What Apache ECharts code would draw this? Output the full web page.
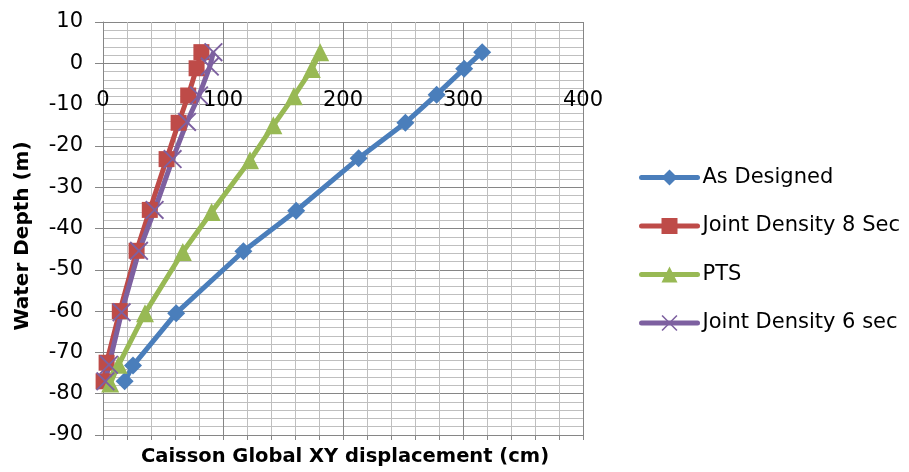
<!DOCTYPE html>
<html>
<head>
<meta charset="utf-8">
<script src="https://cdn.jsdelivr.net/npm/echarts@6/dist/echarts.min.js"></script>
<style>
  html, body { margin: 0; padding: 0; background: #ffffff; }
  #chart { width: 909px; height: 472px; }
</style>
</head>
<body>
<div id="chart"></div>
<script>
// ---- Data ----
var seriesNames = ["As Designed", "Joint Density 8 Sec", "PTS", "Joint Density 6 sec"];

var asDesignedX = [316, 301, 278, 252, 213, 161, 117, 61, 25, 18];
var asDesignedY = [2.7, -1.3, -7.6, -14.4, -23, -35.7, -45.5, -60.5, -73.2, -77];

var jd8X = [82, 78, 71, 63, 53, 39, 28, 14, 3, 0.5];
var jd8Y = [2.7, -1.2, -7.8, -14.4, -23.2, -35.5, -45.4, -60, -72.5, -77];

var ptsX = [181, 174, 159, 142, 122.5, 90.5, 66.5, 35, 13, 6];
var ptsY = [2.7, -1.4, -8, -15, -23.5, -36, -45.7, -60.5, -73, -77.5];

var jd6X = [92, 89, 80, 70, 58, 43, 30, 15.5, 5, 2];
var jd6Y = [2.7, -0.8, -7.8, -14.2, -23.2, -35.5, -45.4, -60.3, -73, -77];

var xTickValues = [0, 100, 200, 300, 400];
var yTickValues = [-90, -80, -70, -60, -50, -40, -30, -20, -10, 0, 10];

var xTitle = "Caisson Global XY displacement (cm)";
var yTitle = "Water Depth (m)";

// ---- Build ----
function pairs(xs, ys) {
  var out = [];
  for (var i = 0; i < xs.length; i++) out.push([xs[i], ys[i]]);
  return out;
}

var FONT = "DejaVu Sans";
var colors = ["#4A7EBB", "#BE4B48", "#98B954", "#7D60A0"];
var symbols = [
  "diamond",
  "rect",
  "triangle",
  "path://M0,0.7 L0.7,0 L10,9.3 L9.3,10 Z M9.3,0 L10,0.7 L0.7,10 L0,9.3 Z"
];
var symbolSizes = [18, 16, 18, 19];
var dataSets = [
  pairs(asDesignedX, asDesignedY),
  pairs(jd8X, jd8Y),
  pairs(ptsX, ptsY),
  pairs(jd6X, jd6Y)
];

var series = seriesNames.map(function (name, i) {
  return {
    name: name,
    type: "line",
    xAxisIndex: 0,
    data: dataSets[i],
    symbol: symbols[i],
    symbolSize: symbolSizes[i],
    showAllSymbol: true,
    lineStyle: { color: colors[i], width: 5 },
    itemStyle: { color: colors[i] },
    emphasis: { disabled: true },
    animation: false
  };
});

var xMin = xTickValues[0], xMax = xTickValues[xTickValues.length - 1];
var yMin = yTickValues[0], yMax = yTickValues[yTickValues.length - 1];

var gridTop = 22, gridBottom = 37, chartH = 472;
var plotH = chartH - gridTop - gridBottom;
// move the x axis up so that it crosses the y axis at 0 (as in the reference)
var xAxisOffset = -plotH * (0 - yMin) / (yMax - yMin);

var chart = echarts.init(document.getElementById("chart"), null, { renderer: "canvas" });
chart.setOption({
  animation: false,
  backgroundColor: "#ffffff",
  grid: { left: 103, right: 326, top: gridTop, bottom: gridBottom, containLabel: false },
  xAxis: [{
    type: "value",
    position: "bottom",
    offset: xAxisOffset,
    min: xMin, max: xMax, interval: 100,
    axisLine: { show: true, onZero: false, lineStyle: { color: "#868686", width: 1 } },
    axisTick: { show: false },
    axisLabel: { margin: 27, fontFamily: FONT, fontSize: 21, color: "#000000" },
    splitLine: { show: true, lineStyle: { color: "#868686", width: 1 } },
    minorTick: { show: false, splitNumber: 5 },
    minorSplitLine: { show: true, lineStyle: { color: "#BFBFBF", width: 1 } }
  }, {
    type: "value",
    position: "bottom",
    offset: 0,
    min: xMin, max: xMax, interval: 100,
    axisLine: { show: false, onZero: false },
    axisTick: { show: true, length: 5, lineStyle: { color: "#868686" } },
    minorTick: { show: true, splitNumber: 5, length: 5, lineStyle: { color: "#868686" } },
    axisLabel: { show: false },
    splitLine: { show: false },
    minorSplitLine: { show: false }
  }],
  yAxis: {
    type: "value",
    min: yMin, max: yMax, interval: 10,
    axisLine: { show: true, onZero: false, lineStyle: { color: "#868686", width: 1 } },
    axisTick: { show: true, length: 8, lineStyle: { color: "#868686" } },
    axisLabel: { margin: 20, fontFamily: FONT, fontSize: 21, color: "#000000" },
    splitLine: { show: true, lineStyle: { color: "#868686", width: 1 } },
    minorTick: { show: false, splitNumber: 5 },
    minorSplitLine: { show: true, lineStyle: { color: "#BFBFBF", width: 1 } }
  },
  legend: {
    orient: "vertical",
    left: 639,
    top: 167,
    padding: 0,
    itemWidth: 56,
    itemHeight: 20,
    itemGap: 27.5,
    lineStyle: { width: 5, cap: "round" },
    textStyle: { fontFamily: FONT, fontSize: 21, color: "#000000" },
    data: seriesNames
  },
  graphic: [{
    type: "text",
    x: 345, y: 457,
    style: {
      text: xTitle,
      x: 0, y: 0,
      fontFamily: FONT, fontSize: 19.5, fontWeight: "bold", fill: "#000000",
      align: "center", verticalAlign: "middle"
    }
  }, {
    type: "text",
    x: 23, y: 236,
    rotation: Math.PI / 2,
    style: {
      text: yTitle,
      x: 0, y: 0,
      fontFamily: FONT, fontSize: 20, fontWeight: "bold", fill: "#000000",
      align: "center", verticalAlign: "middle"
    }
  }],
  series: series
});
</script>
</body>
</html>
